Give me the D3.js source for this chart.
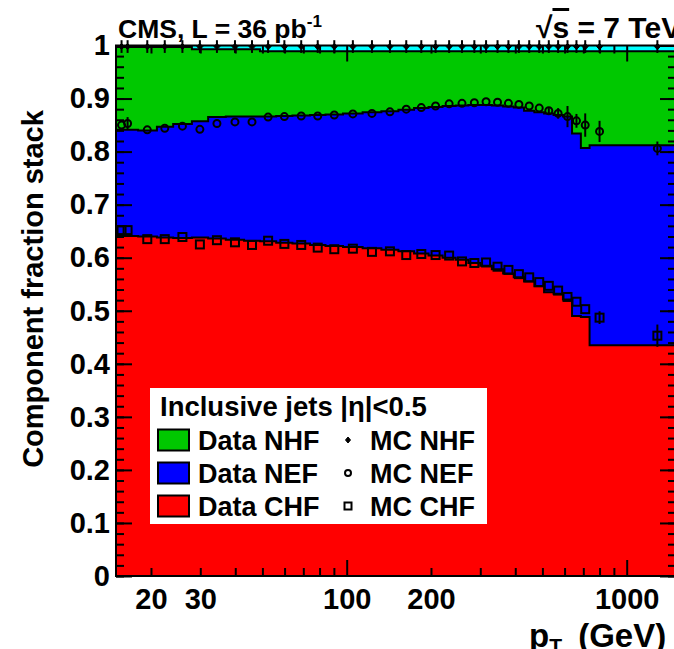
<!DOCTYPE html>
<html><head><meta charset="utf-8">
<script src="https://cdn.jsdelivr.net/npm/d3@7/dist/d3.min.js"></script>
<style>
body{margin:0;background:#fff}
svg{display:block}
text{font-family:"Liberation Sans",Arial,Helvetica,sans-serif;font-weight:bold;fill:#000}
</style>
</head><body>
<svg id="c" width="674" height="649"></svg>
<script>
// ---- data ----
const binEdges = [15,18,21,24,28,32,37,43,49,56,64,74,84,97,114,133,153,174,196,220,245,272,300,330,362,395,430,468,507,548,592,638,686,737,1500];
const dataCHF = [.641,.640,.638,.637,.638,.636,.634,.632,.631,.628,.627,.624,.622,.620,.618,.615,.612,.608,.604,.600,.596,.590,.585,.578,.570,.563,.555,.546,.535,.532,.521,.490,.488,.435];
const dataNEF = [.200,.200,.209,.215,.219,.229,.232,.234,.235,.239,.241,.245,.248,.252,.256,.261,.267,.274,.280,.286,.291,.298,.303,.309,.315,.320,.322,.328,.337,.337,.345,.344,.319,.377];
const dataNHF = [.156,.157,.150,.145,.136,.128,.127,.127,.123,.122,.121,.120,.119,.117,.115,.113,.110,.107,.105,.103,.102,.101,.101,.102,.104,.106,.112,.115,.117,.120,.123,.155,.182,.177];
const dataOther = [.003,.003,.003,.003,.007,.007,.007,.007,.011,.011,.011,.011,.011,.011,.011,.011,.011,.011,.011,.011,.011,.011,.011,.011,.011,.011,.011,.011,.011,.011,.011,.011,.011,.011];

const mcPt  = [15.7,16.5,19.4,22.4,25.9,29.9,34.4,39.9,45.9,52.4,59.9,68.8,78.8,90.3,105.2,123.1,142.7,163.2,184.7,207.7,232.2,258.1,285.7,314.6,345.7,378.1,412.1,448.6,487.1,527,569,614.6,661.6,711,800,1287];
const mcCHF = [.652,.652,.635,.635,.639,.625,.633,.629,.624,.632,.626,.624,.619,.616,.617,.611,.612,.605,.607,.605,.604,.593,.590,.591,.583,.577,.569,.563,.554,.547,.538,.526,.517,.503,.487,.453];
const mcNEF = [.198,.201,.206,.209,.209,.217,.220,.227,.232,.233,.240,.243,.248,.253,.254,.261,.263,.275,.276,.281,.286,.298,.302,.303,.310,.314,.320,.323,.328,.330,.334,.340,.341,.347,.351,.353];
const mcNHF = [.148,.145,.157,.154,.150,.156,.145,.142,.142,.133,.132,.131,.131,.129,.127,.126,.123,.118,.115,.112,.108,.107,.106,.104,.105,.107,.109,.112,.116,.121,.126,.132,.140,.148,.160,.192];
const mcErrCHF = [0,0,0,0,0,0,0,0,0,0,0,0,0,0,0,0,0,0,0,0,0,0,0,0,0,0,0,0,0,0,0,0,0,0,.012,.021];
const mcErrNEF = [0,.012,0,0,0,0,0,0,0,0,0,0,0,0,0,0,0,0,0,0,0,0,0,0,0,0,0,0,0,.005,.01,.02,.013,.022,.02,.013];
const mcErrNHF = [.012,.012,.012,.012,.012,.012,.012,.012,.012,.012,.012,.012,.012,.012,.012,.012,.012,.012,.012,.012,.012,.012,.012,.012,.012,.012,.012,.012,.012,.012,.012,.012,.012,.012,.012,.012];

const xMajor = [100,1000];
const xMinor = [20,30,40,50,60,70,80,90,200,300,400,500,600,700,800,900];
const xLabels = [20,30,100,200,1000];
const yMajor = d3.range(0,1.0001,0.1);
const yMinor = d3.range(0,1.0001,0.02);

const colors = {chf:"#ff0000", nef:"#0000ff", nhf:"#00c800", oth:"#00ffff"};

// ---- layout ----
const L = 116, R = 676, T = 45.5, B = 576;
const svg = d3.select("#c");
const x = d3.scaleLog().domain([15,1500]).range([L,R]);
const y = d3.scaleLinear().domain([0,1]).range([B,T]);

svg.append("defs").append("clipPath").attr("id","plot")
  .append("rect").attr("x",L).attr("y",T).attr("width",R-L).attr("height",B-T);
const plot = svg.append("g").attr("clip-path","url(#plot)");

// stacked data histogram
const rows = dataCHF.map((v,i)=>({chf:v, nef:dataNEF[i], nhf:dataNHF[i], oth:dataOther[i]}));
const keys = ["chf","nef","nhf","oth"];
const stacked = d3.stack().keys(keys)(rows);
const area = d3.area().curve(d3.curveStepAfter).x(d=>x(d.e)).y0(d=>y(d.v0)).y1(d=>y(d.v1));
const line = d3.line().curve(d3.curveStepAfter).x(d=>x(d.e)).y(d=>y(d.v1));
stacked.forEach(s=>{
  const pts = s.map((d,i)=>({e:binEdges[i], v0:d[0], v1:d[1]}));
  const last = s[s.length-1];
  pts.push({e:binEdges[s.length], v0:last[0], v1:last[1]});
  s.pts = pts;
  plot.append("path").attr("d",area(pts)).attr("fill",colors[s.key]);
});
stacked.forEach(s=>{
  if (s.key==="oth") return;
  plot.append("path").attr("d",line(s.pts)).attr("fill","none").attr("stroke","#000").attr("stroke-width",2);
});

// axes
function styleAxis(g){ g.select(".domain").remove(); g.selectAll("line").attr("stroke","#000").attr("stroke-width",2); }
svg.append("g").attr("transform",`translate(0,${B})`).call(d3.axisBottom(x).tickValues(xMinor).tickSizeInner(-8).tickSizeOuter(0).tickFormat("")).call(styleAxis);
svg.append("g").attr("transform",`translate(0,${B})`).call(d3.axisBottom(x).tickValues(xMajor).tickSizeInner(-16).tickSizeOuter(0).tickFormat("")).call(styleAxis);
svg.append("g").attr("transform",`translate(0,${T})`).call(d3.axisTop(x).tickValues(xMinor).tickSizeInner(-8).tickSizeOuter(0).tickFormat("")).call(styleAxis);
svg.append("g").attr("transform",`translate(0,${T})`).call(d3.axisTop(x).tickValues(xMajor).tickSizeInner(-16).tickSizeOuter(0).tickFormat("")).call(styleAxis);
const xl = svg.append("g").attr("transform",`translate(0,${B})`).call(d3.axisBottom(x).tickValues(xLabels).tickSize(0).tickPadding(12).tickFormat(d3.format("d")));
xl.select(".domain").remove();
xl.selectAll("text").attr("font-size",29);
xl.attr("font-size",null).attr("font-family",null);

svg.append("g").attr("transform",`translate(${L},0)`).call(d3.axisLeft(y).tickValues(yMinor).tickSizeInner(-8).tickSizeOuter(0).tickFormat("")).call(styleAxis);
svg.append("g").attr("transform",`translate(${L},0)`).call(d3.axisLeft(y).tickValues(yMajor).tickSizeInner(-16).tickSizeOuter(0).tickFormat("")).call(styleAxis);
svg.append("g").attr("transform",`translate(${R},0)`).call(d3.axisRight(y).tickValues(yMinor).tickSizeInner(-8).tickSizeOuter(0).tickFormat("")).call(styleAxis);
svg.append("g").attr("transform",`translate(${R},0)`).call(d3.axisRight(y).tickValues(yMajor).tickSizeInner(-16).tickSizeOuter(0).tickFormat("")).call(styleAxis);
const yl = svg.append("g").attr("transform",`translate(${L},0)`).call(d3.axisLeft(y).tickValues(yMajor).tickSize(0).tickPadding(6).tickFormat(d=>d===0?"0":d===1?"1":d3.format(".1f")(d)));
yl.select(".domain").remove();
yl.selectAll("text").attr("font-size",29);
yl.attr("font-size",null).attr("font-family",null);

svg.append("rect").attr("x",L).attr("y",T).attr("width",R-L).attr("height",B-T).attr("fill","none").attr("stroke","#000").attr("stroke-width",2);

// MC markers (drawn over the frame, like the reference)
const mc = mcPt.map((p,i)=>({p, c:mcCHF[i], n:mcCHF[i]+mcNEF[i], h:mcCHF[i]+mcNEF[i]+mcNHF[i], ec:mcErrCHF[i], en:mcErrNEF[i], eh:mcErrNHF[i]}));
const mk = svg.append("g").attr("stroke","#000").attr("stroke-width",2).attr("fill","none");
mc.forEach(d=>{
  const px = x(d.p);
  [[d.c,d.ec],[d.n,d.en],[d.h,d.eh]].forEach(([v,e])=>{
    if (e>0) mk.append("line").attr("x1",px).attr("x2",px).attr("y1",y(v+e)).attr("y2",y(v-e));
  });
  mk.append("rect").attr("x",px-4).attr("y",y(d.c)-4).attr("width",8).attr("height",8);
  mk.append("circle").attr("cx",px).attr("cy",y(d.n)).attr("r",3.5);
  mk.append("path").attr("d",`M${px},${y(d.h)-3}L${px+3},${y(d.h)}L${px},${y(d.h)+3}L${px-3},${y(d.h)}Z`).attr("fill","#000").attr("stroke-width",1);
});

// titles
svg.append("text").attr("transform","translate(43,289) rotate(-90)").attr("text-anchor","middle").attr("font-size",29).text("Component fraction stack");
const xt = svg.append("text").attr("x",529).attr("y",647).attr("font-size",33);
xt.append("tspan").text("p");
xt.append("tspan").attr("font-size",21).attr("dy",6).text("T");
xt.append("tspan").attr("dy",-6).attr("dx",7).text(" (GeV)");

const cms = svg.append("text").attr("x",118).attr("y",38).attr("font-size",26.5);
cms.append("tspan").text("CMS, L = 36 pb");
cms.append("tspan").attr("font-size",17).attr("dy",-11).text("-1");
const rs = svg.append("text").attr("x",536).attr("y",38).attr("font-size",30);
rs.append("tspan").text("\u221A");
rs.append("tspan").attr("text-decoration","overline").text("s");
rs.append("tspan").text(" = 7 TeV");

// legend
const lg = svg.append("g");
lg.append("rect").attr("x",150).attr("y",388).attr("width",337).attr("height",136).attr("fill","#fff");
lg.append("text").attr("x",160).attr("y",416).attr("font-size",27.5).text("Inclusive jets |\u03B7|<0.5");
const entries = [["nhf","Data NHF","MC NHF"],["nef","Data NEF","MC NEF"],["chf","Data CHF","MC CHF"]];
entries.forEach(([k,a,b],i)=>{
  const cy = 440 + i*33;
  lg.append("rect").attr("x",158).attr("y",cy-10.5).attr("width",31).attr("height",21).attr("fill",colors[k]).attr("stroke","#000").attr("stroke-width",2);
  lg.append("text").attr("x",198).attr("y",cy+10).attr("font-size",27).text(a);
  lg.append("text").attr("x",370).attr("y",cy+10).attr("font-size",27).text(b);
  const m = lg.append("g").attr("stroke","#000").attr("fill","none");
  if (k==="nhf") m.append("path").attr("d",`M348,${cy-3}L350.5,${cy}L348,${cy+3}L345.5,${cy}Z`).attr("fill","#000").attr("stroke-width",1);
  if (k==="nef") m.append("circle").attr("cx",348).attr("cy",cy).attr("r",3).attr("stroke-width",2);
  if (k==="chf") m.append("rect").attr("x",344.5).attr("y",cy-3.5).attr("width",7).attr("height",7).attr("stroke-width",2);
});
</script>
</body></html>
